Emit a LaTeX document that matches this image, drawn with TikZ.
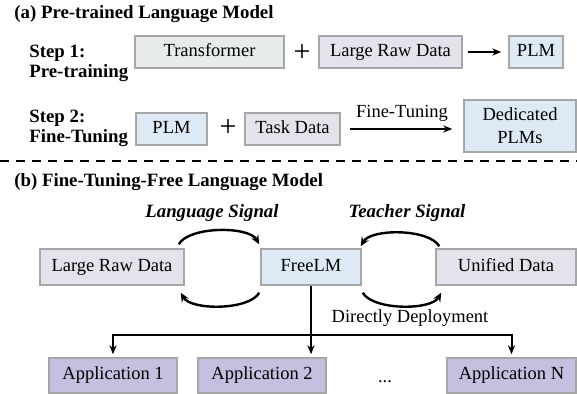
\documentclass[tikz,border=0pt]{standalone}
\usepackage{fontspec}
\setmainfont{Liberation Serif}
\usetikzlibrary{arrows.meta}
\definecolor{greenbox}{HTML}{E7ECE9}
\definecolor{lavbox}{HTML}{E5E2EC}
\definecolor{bluebox}{HTML}{DDE9F5}
\definecolor{appbox}{HTML}{C6BFDF}
\definecolor{edgegray}{HTML}{A6A6A6}

\begin{document}
\begin{tikzpicture}[x=0.5pt,y=-0.5pt,
  every node/.style={font=\fontsize{9.25}{10}\selectfont,inner sep=0pt},
  box/.style={draw=edgegray,line width=0.75pt,text height=6.3pt,text depth=1.9pt},
  head/.style={font=\fontsize{9.4}{10}\selectfont\bfseries},
  plus/.style={font=\fontsize{15}{15}\selectfont},
  arr/.style={-{Stealth[length=4.5pt,width=3.6pt]},line width=0.8pt},
  sig/.style={-{Stealth[length=4.5pt,width=4pt]},line width=1.2pt,looseness=0.67}]
\useasboundingbox (0,0) rectangle (577,394);
%\draw[help lines,step=50] (0,0) grid (577,394);
\node[head,anchor=west] (titlea) at (14,14) {(a) Pre-trained Language Model};
\node[head,anchor=west,align=left] (step1) at (29,63) {Step 1:\\Pre-training};
\node[box,fill=greenbox,minimum width=74.5pt,minimum height=16pt] (trans) at (209.5,52) {Transformer};
\node[plus] (plus1) at (302,53) {+};
\node[box,fill=lavbox,minimum width=71.5pt,minimum height=16pt] (raw1) at (390.5,52) {Large Raw Data};
\node[box,fill=bluebox,minimum width=27pt,minimum height=16pt] (plm1) at (536,52) {PLM};
\draw[arr,shorten <=2.5pt,shorten >=3.5pt] (raw1) -- (plm1);

\node[head,anchor=west,align=left] (step2) at (29,128) {Step 2:\\Fine-Tuning};
\node[box,fill=bluebox,minimum width=35.5pt,minimum height=16pt] (plm2) at (171.5,129) {PLM};
\node[plus] (plus2) at (228,128) {+};
\node[box,fill=lavbox,minimum width=47.5pt,minimum height=16pt] (task) at (292.5,129) {Task Data};
\node[box,fill=bluebox,minimum width=56pt,minimum height=26pt,align=center,text height=,text depth=] (ded) at (520,126) {Dedicated\\[1.5pt]PLMs};
\draw[arr,shorten <=4.5pt,shorten >=5.5pt] (task) -- node[above=3.5pt] {Fine-Tuning} (task -| ded.west);

\draw[dash pattern=on 4.5pt off 3.5pt,line width=0.8pt] (0,161) -- (577,161);

\node[head,anchor=west] (titleb) at (14,182) {(b) Fine-Tuning-Free Language Model};
\node[head,font=\fontsize{9.4}{10}\selectfont\bfseries\itshape] (lang) at (212,213) {Language Signal};
\node[head,font=\fontsize{9.4}{10}\selectfont\bfseries\itshape] (teach) at (407,213) {Teacher Signal};
\node[box,fill=lavbox,minimum width=72pt,minimum height=18pt] (raw2) at (112,267) {Large Raw Data};
\node[box,fill=bluebox,minimum width=50pt,minimum height=18pt] (free) at (311,267) {FreeLM};
\node[box,fill=lavbox,minimum width=70pt,minimum height=18pt] (unif) at (506,267) {Unified Data};
\draw[sig] ([xshift=-3pt,yshift=2pt]raw2.north east) to[out=60,in=120] ([xshift=-0.5pt,yshift=2pt]free.north west);
\draw[sig] ([xshift=-0.5pt,yshift=-3.5pt]free.south west) to[out=-120,in=-60] ([xshift=-2pt,yshift=-3.5pt]raw2.south east);
\draw[sig] ([xshift=2pt,yshift=1pt]unif.north west) to[out=120,in=60] ([xshift=-0.5pt,yshift=1pt]free.north east);
\draw[sig] ([xshift=0.5pt,yshift=-3.5pt]free.south east) to[out=-60,in=-120] ([xshift=3pt,yshift=-3.5pt]unif.south west);
\node (deploy) at (410,318) {Directly Deployment};

\node[box,fill=appbox,minimum width=64pt,minimum height=17.5pt] (app1) at (113,375.5) {Application 1};
\node[box,fill=appbox,minimum width=64pt,minimum height=17.5pt] (app2) at (262,375.5) {Application 2};
\node (dots) at (385,382) {...};
\node[box,fill=appbox,minimum width=64.5pt,minimum height=17.5pt] (appn) at (511.5,375.5) {Application N};
\coordinate (hub) at (311,335);
\draw[line width=1pt] (free.south) -- (hub);
\draw[arr,line width=1pt,shorten >=1.5pt] (hub) -| (app1.north);
\draw[arr,line width=1pt,shorten >=1.5pt] (hub) -| (appn.north);
\draw[arr,line width=1pt,shorten >=1.5pt] (hub) -- (hub |- app2.north);
\end{tikzpicture}
\end{document}
